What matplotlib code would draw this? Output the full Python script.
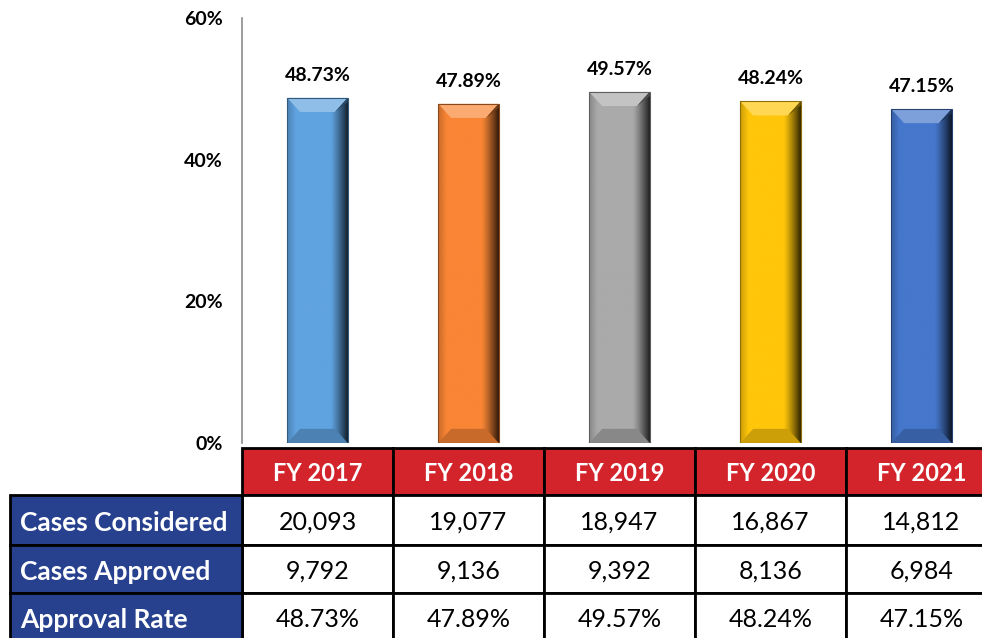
import numpy as np
import matplotlib.pyplot as plt
from matplotlib.patches import Rectangle, Polygon
from matplotlib.transforms import blended_transform_factory
from matplotlib.colors import to_rgb

plt.rcParams['font.family'] = ['Lato', 'DejaVu Sans']

# data
years = ["FY 2017", "FY 2018", "FY 2019", "FY 2020", "FY 2021"]
approval_rate = [48.73, 47.89, 49.57, 48.24, 47.15]
cases_considered = [20093, 19077, 18947, 16867, 14812]
cases_approved = [9792, 9136, 9392, 8136, 6984]
row_labels = ["Cases Considered", "Cases Approved", "Approval Rate"]
bar_colors = ["#5fa3e0", "#f98535", "#aaaaaa", "#ffc60a", "#4577cc"]

W, H = 982, 638
fig = plt.figure(figsize=(W / 100, H / 100), dpi=100)
ax = fig.add_axes([242 / W, (H - 443) / H, 755 / W, 425 / H])

x = np.arange(len(years))
bars = ax.bar(x, approval_rate, width=0.4, color=bar_colors, zorder=2)

# bevel shading on each bar
for b, c in zip(bars, bar_colors):
    x0, w, h = b.get_x(), b.get_width(), b.get_height()
    base = np.array(to_rgb(c))
    t = np.linspace(0, 1, 120)
    f = np.ones_like(t)
    f = np.where(t < 0.14, 0.8 + 0.2 * t / 0.14, f)
    f = np.where(t > 0.72, 1 - 0.8 * ((t - 0.72) / 0.28) ** 1.2, f)
    img = np.clip(base[None, :] * f[:, None], 0, 1)[None, :, :]
    im = ax.imshow(img, extent=[x0, x0 + w, 0, h], aspect='auto', zorder=3,
                   interpolation='bilinear')
    im.set_clip_path(b)
    dx, dy = 0.085, 2.0
    light = base + (1 - base) * 0.3
    ax.add_patch(Polygon([(x0, h), (x0 + w, h), (x0 + w - dx, h - dy), (x0 + dx, h - dy)],
                         closed=True, facecolor=light, edgecolor='none', zorder=4))
    ax.add_patch(Polygon([(x0 + w - dx, h - dy), (x0 + w, h), (x0 + w, h - dy * 0.3)],
                         closed=True, facecolor=base * 0.45, edgecolor='none', zorder=4))
    dark = base * 0.8
    ax.add_patch(Polygon([(x0, 0), (x0 + w, 0), (x0 + w - dx, dy), (x0 + dx, dy)],
                         closed=True, facecolor=dark, edgecolor='none', zorder=4))
    ax.add_patch(Rectangle((x0, 0), w, h, facecolor='none', edgecolor=base * 0.55,
                           lw=0.8, zorder=5))

for xi, v in zip(x, approval_rate):
    ax.text(xi, v + 2.4, f"{v:.2f}%", ha='center', va='baseline',
            fontsize=14, fontweight='bold', color='black')

ax.set_xlim(-0.5, 4.5)
ax.set_ylim(0, 60)
ax.set_yticks([0, 20, 40, 60])
ax.set_yticklabels([f"{t}%" for t in [0, 20, 40, 60]], fontsize=14, fontweight='bold')
ax.tick_params(axis='y', length=0, pad=14)
ax.set_xticks([])
for s in ['top', 'right', 'bottom']:
    ax.spines[s].set_visible(False)
ax.spines['left'].set_color('#8c8c8c')
ax.spines['left'].set_linewidth(1.2)

# data table under the bars
trans = blended_transform_factory(ax.transData, fig.transFigure)
edges = [448, 495, 545, 593, 641]
fy = [(H - e) / H for e in edges]
red = "#d3232b"
blue = "#27418f"

for i, yr in enumerate(years):
    ax.add_patch(Rectangle((i - 0.5, fy[1]), 1, fy[0] - fy[1], transform=trans,
                           facecolor=red, edgecolor='black', lw=2, clip_on=False, zorder=6))
    ax.text(i, (fy[0] + fy[1]) / 2 - 0.003, yr, transform=trans, ha='center', va='center',
            fontsize=17, fontweight='bold', color='white', clip_on=False, zorder=7)

rows = [
    [f"{v:,}" for v in cases_considered],
    [f"{v:,}" for v in cases_approved],
    [f"{v:.2f}%" for v in approval_rate],
]
for r, (lab, vals) in enumerate(zip(row_labels, rows)):
    top, bot = fy[r + 1], fy[r + 2]
    fig.add_artist(Rectangle((10 / W, bot), 232 / W, top - bot, transform=fig.transFigure,
                             facecolor=blue, edgecolor='black', lw=2, zorder=6))
    fig.text(20 / W, (top + bot) / 2 - 0.004, lab, ha='left', va='center', fontsize=19,
             fontweight='bold', color='white', zorder=7)
    for i, s in enumerate(vals):
        ax.add_patch(Rectangle((i - 0.5, bot), 1, top - bot, transform=trans,
                               facecolor='white', edgecolor='black', lw=2, clip_on=False, zorder=6))
        ax.text(i, (top + bot) / 2 - 0.004, s, transform=trans, ha='center', va='center',
                fontsize=18, color='black', clip_on=False, zorder=7)

fig.savefig("out.png", dpi=100)
